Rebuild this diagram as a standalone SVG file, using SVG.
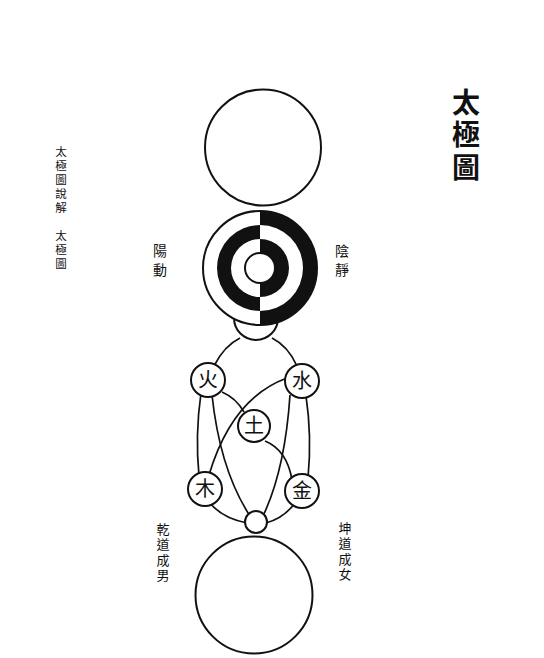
<svg xmlns="http://www.w3.org/2000/svg" width="544" height="658" viewBox="0 0 544 658">
<style>
.c{fill:#fff;stroke:#111;stroke-width:2}
.l{fill:none;stroke:#111;stroke-width:1.7}
.b{fill:#111;stroke:none}
.t{font-family:"Noto Sans CJK TC","Noto Sans CJK SC",sans-serif;fill:#111;text-anchor:middle}
.v{font-family:"Noto Sans CJK TC","Noto Sans CJK SC",sans-serif;fill:#111;text-anchor:start;writing-mode:vertical-rl}
.e{font-size:20px}
</style>
<rect width="544" height="658" fill="#fff"/>
<g id="connectors">
<path class="l" d="M240 338 Q224 346 214 366"/>
<path class="l" d="M272 338 Q288 346 297 366"/>
<path class="l" d="M201 393 Q195 435 199 476"/>
<path class="l" d="M306 396 Q312 436 308 478"/>
<path class="l" d="M212 395 Q220 470 250 516"/>
<path class="l" d="M290 395 Q285 470 263 516"/>
<path class="l" d="M222 392 Q236 398 244 412"/>
<path class="l" d="M287 378 Q232 398 209 475"/>
<path class="l" d="M265 441 Q287 450 292 480"/>
<path class="l" d="M210 503 Q222 518 247 523"/>
<path class="l" d="M295 503 Q284 518 266 523"/>
</g>
<g id="wuji"><circle class="c" cx="263" cy="147.5" r="58"/></g>
<g id="link-top"><circle class="c" cx="256" cy="318" r="22"/></g>
<g id="yinyang">
<circle class="c" cx="260" cy="268" r="57"/>
<path class="b" d="M260 225 A43 43 0 0 0 260 311 L260 297 A29 29 0 0 1 260 239 Z"/>
<path class="b" d="M260 211 A57 57 0 0 1 260 325 L260 311 A43 43 0 0 0 260 225 Z"/>
<path class="b" d="M260 239 A29 29 0 0 1 260 297 L260 283 A15 15 0 0 0 260 253 Z"/>
<circle class="c" cx="260" cy="268" r="15"/>
</g>
<g id="fire"><circle class="c" cx="208" cy="380" r="17"/><text class="t e" x="208" y="387">火</text></g>
<g id="water"><circle class="c" cx="302" cy="381" r="17"/><text class="t e" x="302" y="388">水</text></g>
<g id="earth"><circle class="c" cx="254" cy="426" r="16"/><text class="t e" x="254" y="433">土</text></g>
<g id="wood"><circle class="c" cx="205" cy="489" r="17"/><text class="t e" x="205" y="496">木</text></g>
<g id="metal"><circle class="c" cx="302" cy="491" r="17"/><text class="t e" x="302" y="498">金</text></g>
<g id="link-bottom"><circle class="c" cx="256" cy="522" r="11"/></g>
<g id="wanwu"><circle class="c" cx="254" cy="595" r="58.5"/></g>
<g id="labels">
<text class="v" style="font-size:28px;font-weight:bold;letter-spacing:4.5px" x="466" y="88">太極圖</text>
<text class="v" style="font-size:11.5px;letter-spacing:2.5px" x="61" y="146">太極圖說解　太極圖</text>
<text class="v" style="font-size:14px;letter-spacing:5px" x="160" y="244">陽動</text>
<text class="v" style="font-size:14px;letter-spacing:5px" x="342" y="244">陰靜</text>
<text class="v" style="font-size:13px;letter-spacing:2.5px" x="163" y="522.5">乾道成男</text>
<text class="v" style="font-size:13px;letter-spacing:2.5px" x="345" y="521.5">坤道成女</text>
</g>
</svg>
